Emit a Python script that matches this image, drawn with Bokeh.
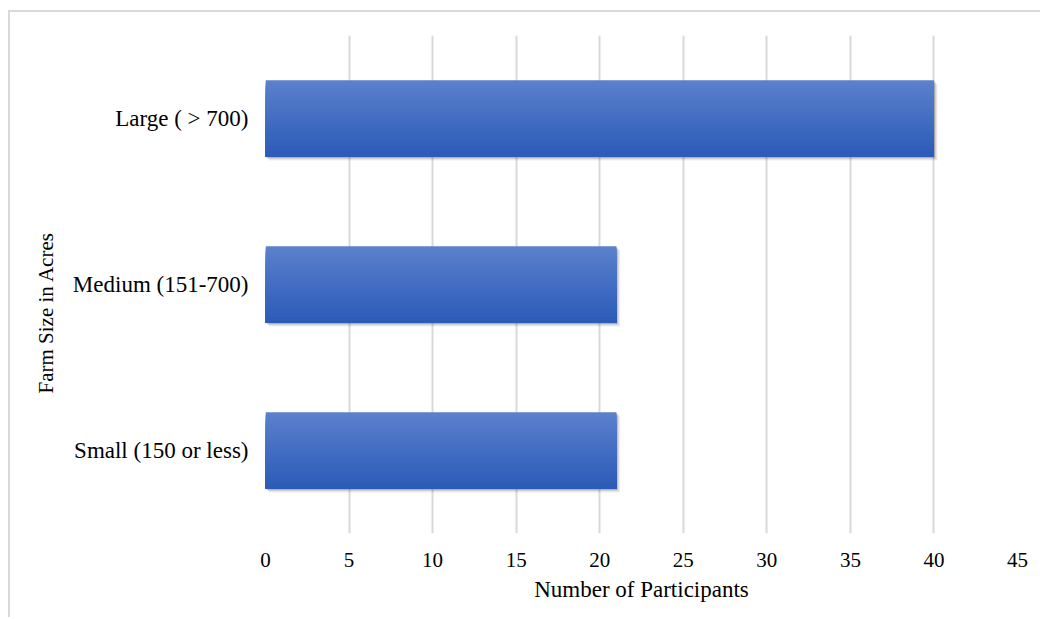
import numpy as np
from bokeh.plotting import figure
from bokeh.models import FixedTicker, ColumnDataSource, Title
from bokeh.embed import file_html
from bokeh.resources import INLINE

categories = ["Small (150 or less)", "Medium (151-700)", "Large ( > 700)"]
participants = [21, 21, 40]
x_ticks = [0, 5, 10, 15, 20, 25, 30, 35, 40, 45]

FONT = "Liberation Serif"
BAR_H = 0.46
TOP = np.array([0x5B, 0x80, 0xCD])
BOT = np.array([0x2C, 0x5B, 0xB8])
N = 40

p = figure(width=1032, height=607, margin=(10, 0, 0, 8),
           x_range=(0, 45), y_range=(0, 3),
           output_backend="svg", toolbar_location=None,
           min_border_left=255, min_border_right=25,
           min_border_top=23, min_border_bottom=86,
           styles={"border-left": "2px solid #d9d9d9", "border-top": "2px solid #d9d9d9"})
p.outline_line_color = None

ys = [i + 0.5 for i in range(len(categories))]

# soft shadow (bottom-right)
for dx, dy, a in [(0.05, -0.006, 0.22), (0.11, -0.012, 0.15), (0.17, -0.018, 0.10), (0.23, -0.024, 0.06)]:
    src = ColumnDataSource(dict(y=[y + dy for y in ys], right=[v + dx for v in participants], left=[dx] * len(ys)))
    p.hbar(y="y", left="left", right="right", height=BAR_H, source=src,
           fill_color="#404040", fill_alpha=a, line_color=None)

# vertical gradient bars: nested strips sharing the bottom edge
for k in range(N):
    t = k / (N - 1)
    c = TOP + (BOT - TOP) * t
    col = "#%02x%02x%02x" % tuple(int(round(v)) for v in c)
    h = BAR_H * (1 - k / N)
    src = ColumnDataSource(dict(y=[y - BAR_H / 2 + h / 2 for y in ys], right=participants))
    p.hbar(y="y", left=0, right="right", height=h, source=src,
           fill_color=col, line_color=None)

p.xaxis.ticker = FixedTicker(ticks=x_ticks)
p.yaxis.ticker = FixedTicker(ticks=ys)
p.yaxis.major_label_overrides = {y: c for y, c in zip(ys, categories)}
p.ygrid.grid_line_color = None
p.xgrid.grid_line_color = "#d9d9d9"
p.xgrid.grid_line_width = 2

for ax in (p.xaxis[0], p.yaxis[0]):
    ax.axis_line_color = None
    ax.major_tick_line_color = None
    ax.minor_tick_line_color = None
    ax.major_label_text_font = FONT
    ax.major_label_text_color = "#000000"
    ax.axis_label_text_font = FONT
    ax.axis_label_text_font_size = "23px"
    ax.axis_label_text_font_style = "normal"
    ax.axis_label_text_color = "#000000"

p.xaxis.major_label_text_font_size = "21px"
p.yaxis.major_label_text_font_size = "23px"
p.xaxis.axis_label = "Number of Participants"
p.xaxis.major_label_standoff = 13
p.xaxis.axis_label_standoff = 7
p.yaxis.major_label_standoff = 11

ytitle = Title(text="Farm Size in Acres", align="left", offset=140,
               text_font=FONT, text_font_size="21px", text_font_style="normal",
               text_color="#000000", standoff=24)
p.add_layout(ytitle, "left")

open("out.html", "w").write(file_html(p, INLINE))
